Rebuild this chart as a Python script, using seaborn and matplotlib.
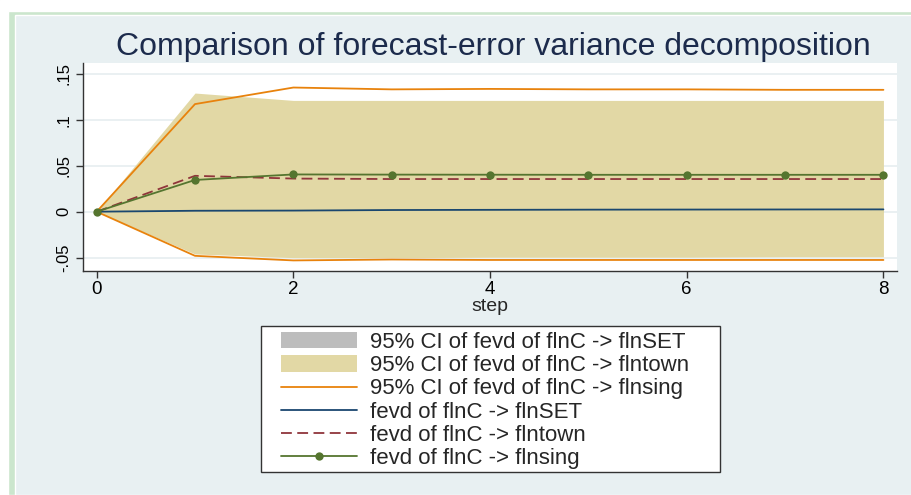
import matplotlib
matplotlib.use("Agg")
import matplotlib.pyplot as plt
from matplotlib.patches import Patch, Rectangle
from matplotlib.lines import Line2D
import pandas as pd
import seaborn as sns

# data
steps = [0, 1, 2, 3, 4, 5, 6, 7, 8]
fevd_set = [0.0, 0.001, 0.0012, 0.0018, 0.002, 0.0022, 0.0023, 0.0024, 0.0025]
fevd_town = [0.0, 0.039, 0.036, 0.0355, 0.0355, 0.0355, 0.0355, 0.0355, 0.0355]
fevd_sing = [0.0, 0.0345, 0.0405, 0.0403, 0.0402, 0.0401, 0.0401, 0.0401, 0.0401]
ci_set_lo = [0.0, -0.001, -0.001, -0.001, -0.001, -0.001, -0.001, -0.001, -0.001]
ci_set_hi = [0.0, 0.003, 0.0035, 0.004, 0.0045, 0.0045, 0.005, 0.005, 0.005]
ci_town_lo = [0.0, -0.046, -0.050, -0.050, -0.0495, -0.0495, -0.0495, -0.049, -0.049]
ci_town_hi = [0.0, 0.129, 0.121, 0.121, 0.121, 0.121, 0.121, 0.121, 0.121]
ci_sing_lo = [0.0, -0.048, -0.053, -0.052, -0.0525, -0.0525, -0.0525, -0.0525, -0.0525]
ci_sing_hi = [0.0, 0.117, 0.135, 0.133, 0.1335, 0.133, 0.133, 0.1325, 0.1325]

y_ticks = [-0.05, 0, 0.05, 0.1, 0.15]
y_ticklabels = ["-.05", "0", ".05", ".1", ".15"]
x_ticks = [0, 2, 4, 6, 8]

labels = [
    "95% CI of fevd of flnC -> flnSET",
    "95% CI of fevd of flnC -> flntown",
    "95% CI of fevd of flnC -> flnsing",
    "fevd of flnC -> flnSET",
    "fevd of flnC -> flntown",
    "fevd of flnC -> flnsing",
]

df = pd.DataFrame({
    "step": steps,
    "set": fevd_set,
    "town": fevd_town,
    "sing": fevd_sing,
})

BG = "#e8f0f2"
GREY = "#bdbdbd"
SAND = "#e2d8a5"
ORANGE = "#e8820c"
NAVY = "#1a476f"
MAROON = "#90353b"
GREEN = "#55752f"

sns.set_style("white")
plt.rcParams["font.family"] = ["Liberation Sans", "DejaVu Sans"]

W, H = 912, 495
fig = plt.figure(figsize=(W / 100, H / 100), dpi=100, facecolor=BG)
# light green frame at top and left
fig.patches.append(Rectangle((0, 0), 1, 1, transform=fig.transFigure,
                             facecolor="white", zorder=-3))
fig.patches.append(Rectangle((8 / W, 0), 1, 1 - 11 / H, transform=fig.transFigure,
                             facecolor="#cbe6cd", zorder=-2))
fig.patches.append(Rectangle((15 / W, 0), 1, 1 - 15 / H, transform=fig.transFigure,
                             facecolor=BG, zorder=-1))

ax = fig.add_axes([83 / W, 1 - 271 / H, (897 - 83) / W, (271 - 62.7) / H])
ax.set_facecolor("white")

ax.fill_between(steps, ci_set_lo, ci_set_hi, color=GREY, lw=0, zorder=1)
ax.fill_between(steps, ci_town_lo, ci_town_hi, color=SAND, lw=0, zorder=1)
ax.plot(steps, ci_sing_lo, color=ORANGE, lw=1.3, zorder=2)
ax.plot(steps, ci_sing_hi, color=ORANGE, lw=1.3, zorder=2)
sns.lineplot(data=df, x="step", y="set", color=NAVY, lw=1.3, ax=ax, zorder=3)
sns.lineplot(data=df, x="step", y="town", color=MAROON, lw=1.3, ax=ax, zorder=3,
             dashes=False, linestyle=(0, (6, 3)))
sns.lineplot(data=df, x="step", y="sing", color=GREEN, lw=1.3, ax=ax, zorder=4,
             marker="o", markersize=6, markeredgewidth=0)

for y in y_ticks:
    ax.axhline(y, color="#e6eef0", lw=1.2, zorder=0)

ax.set_xlim(-0.139, 8.138)
ax.set_ylim(-0.0645, 0.162)
ax.set_xticks(x_ticks)
ax.set_yticks(y_ticks)
ax.set_yticklabels(y_ticklabels, rotation=90, va="center")
ax.tick_params(axis="both", labelsize=12, length=5, width=1, color="#333333",
               labelcolor="black", direction="out", left=True, bottom=True)
ax.tick_params(axis="x", labelsize=13.5, pad=2)
ax.set_xlabel("step", fontsize=14, labelpad=0)
ax.set_ylabel("")
for side in ["top", "right"]:
    ax.spines[side].set_visible(False)
for side in ["left", "bottom"]:
    ax.spines[side].set_color("#333333")
    ax.spines[side].set_linewidth(1)

fig.text(493 / W, 1 - 47 / H, "Comparison of forecast-error variance decomposition",
         ha="center", va="center", fontsize=23, color="#1c2b4c")

# legend box drawn separately so it spans the same width as the reference
fig.patches.append(Rectangle((261 / W, 1 - 472 / H), (720 - 261) / W, (472 - 326) / H,
                             transform=fig.transFigure, facecolor="white",
                             edgecolor="#333333", lw=1, zorder=5))

handles = [
    Patch(facecolor=GREY, edgecolor="none"),
    Patch(facecolor=SAND, edgecolor="none"),
    Line2D([], [], color=ORANGE, lw=1.3),
    Line2D([], [], color=NAVY, lw=1.3),
    Line2D([], [], color=MAROON, lw=1.3, linestyle=(0, (6, 3))),
    Line2D([], [], color=GREEN, lw=1.3, marker="o", markersize=6, markeredgewidth=0),
]
leg = fig.legend(handles, labels, loc="upper left",
                 bbox_to_anchor=(281 / W, 1 - 332 / H),
                 fontsize=16, frameon=False, handlelength=3.42, handleheight=0.75,
                 labelspacing=0.1, borderpad=0, handletextpad=0.58,
                 borderaxespad=0)
leg.set_zorder(6)

fig.savefig("out.png", dpi=100, facecolor=fig.get_facecolor())
